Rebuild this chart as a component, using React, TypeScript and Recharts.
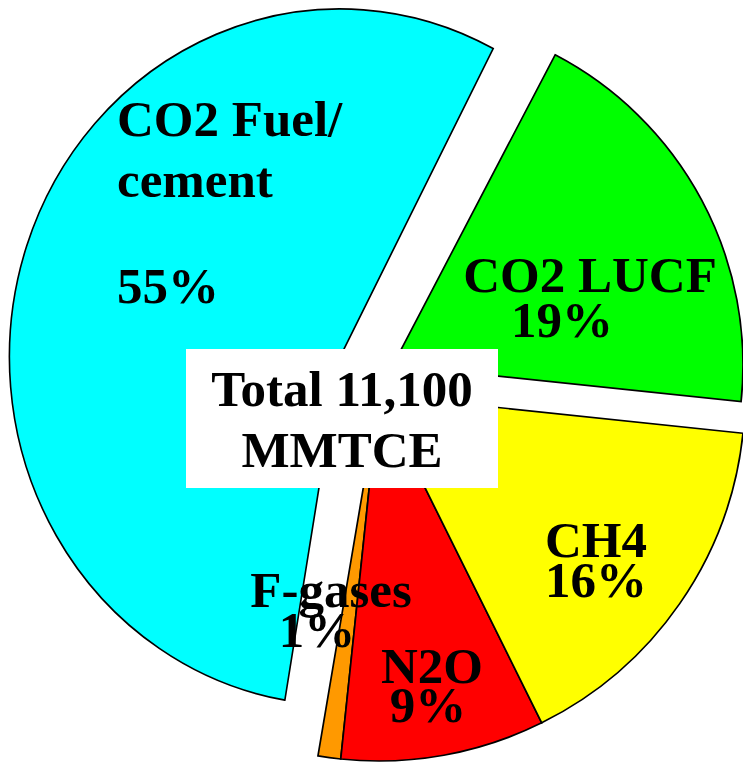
import React from "react";
import { PieChart, Pie, Cell } from "recharts";

// ─── Data ─────────────────────────────────────────────────────────────────────

const categories = ["CO2 LUCF", "CO2 Fuel/cement", "F-gases", "N2O", "CH4"];
const shares = [19, 55, 1, 9, 16];
const shareLabels = ["19%", "55%", "1%", "9%", "16%"];
const nameLines = [["CO2 LUCF"], ["CO2 Fuel/", "cement", ""], ["F-gases"], ["N2O"], ["CH4"]];
const totalLines = ["Total 11,100", "MMTCE"];

const colors = ["#00ff00", "#00ffff", "#ff9900", "#ff0000", "#ffff00"];

const data = categories.map((name, i) => ({ name, value: shares[i] }));

// ─── Layout ───────────────────────────────────────────────────────────────────

const W = 743;
const H = 763;

// exploded pieces: each one draws the whole pie but only fills its own slices
const pieces = [
  { key: "fuel", cx: 340, cy: 357, r: 348, members: [1] },
  { key: "lucf", cx: 393, cy: 365, r: 350, members: [0] },
  { key: "rest", cx: 379, cy: 395, r: 366, members: [2, 3, 4] },
];

// label placement: [x, baseline y] per line, anchor
const labelPlacement: Record<number, { anchor: "start" | "middle"; pos: [number, number][] }> = {
  0: { anchor: "middle", pos: [[590, 292], [562, 337]] },
  1: { anchor: "start", pos: [[117, 136], [117, 197], [117, 250], [117, 303]] },
  2: { anchor: "middle", pos: [[331, 607], [317, 647]] },
  3: { anchor: "middle", pos: [[432, 683], [428, 722]] },
  4: { anchor: "middle", pos: [[596, 557], [596, 597]] },
};

const font = {
  fontFamily: "'Liberation Serif', 'Times New Roman', serif",
  fontWeight: "bold" as const,
  fontSize: 51,
  fill: "#000",
};

const renderLabel = (members: number[]) => (props: any) => {
  const i = props.index;
  if (!members.includes(i)) return null;
  const lines = [...nameLines[i], shareLabels[i]];
  const place = labelPlacement[i];
  return (
    <g key={`lbl-${i}`}>
      {lines.map((t, j) =>
        t ? (
          <text
            key={j}
            x={place.pos[j][0]}
            y={place.pos[j][1]}
            textAnchor={place.anchor}
            {...font}
          >
            {t}
          </text>
        ) : null
      )}
    </g>
  );
};

export default function App() {
  return (
    <div style={{ position: "absolute", left: 0, top: 0, width: W, height: H, background: "#fff" }}>
      {/* the big slice is a little narrower than it is tall in the original */}
      <style>{`.pie-fuel .recharts-pie-sector { transform-origin: 340px 357px; transform: scaleX(0.95); }`}</style>
      <PieChart width={W} height={H} margin={{ top: 0, right: 0, bottom: 0, left: 0 }}>
        {pieces.map((p) => (
          <Pie
            key={p.key}
            className={`pie-${p.key}`}
            data={data}
            dataKey="value"
            nameKey="name"
            cx={p.cx}
            cy={p.cy}
            outerRadius={p.r}
            startAngle={-6}
            endAngle={354}
            label={renderLabel(p.members)}
            labelLine={false}
            isAnimationActive={false}
          >
            {data.map((d, i) =>
              p.members.includes(i) ? (
                <Cell key={d.name} fill={colors[i]} stroke="#000" strokeWidth={1.7} />
              ) : (
                <Cell key={d.name} fill="none" stroke="none" />
              )
            )}
          </Pie>
        ))}
      </PieChart>
      <svg
        width={W}
        height={H}
        style={{ position: "absolute", left: 0, top: 0, pointerEvents: "none" }}
      >
        <rect x={186} y={349} width={312} height={139} fill="#fff" />
        <text x={342} y={406} textAnchor="middle" {...font}>
          {totalLines[0]}
        </text>
        <text x={342} y={467} textAnchor="middle" {...font}>
          {totalLines[1]}
        </text>
      </svg>
    </div>
  );
}
